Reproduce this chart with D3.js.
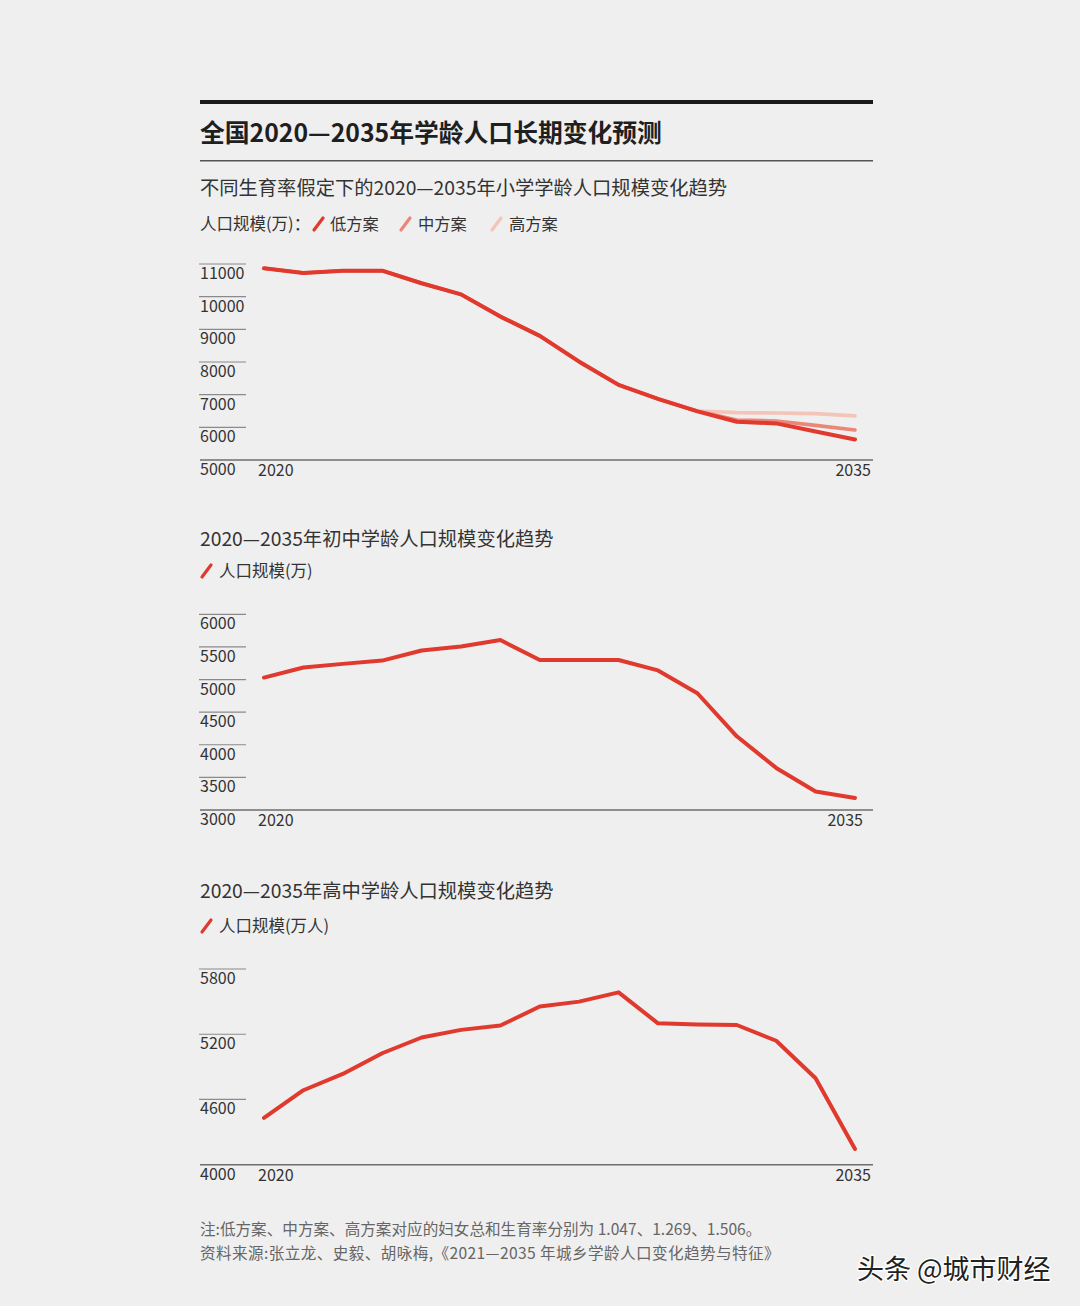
<!DOCTYPE html>
<html><head><meta charset="utf-8">
<script src="https://cdn.jsdelivr.net/npm/d3@7/dist/d3.min.js"></script>
<style>
html,body{margin:0;padding:0;background:#efefef;}
svg{display:block;font-family:"Noto Sans CJK SC","Noto Sans",sans-serif;}
</style></head>
<body>
<script>
// ---------- data ----------
const years = d3.range(2020, 2036);
const primaryLow  = [10870,10725,10795,10795,10410,10070,9390,8800,8010,7300,6870,6490,6170,6120,5870,5630];
const primaryMid  = [10870,10725,10795,10795,10410,10070,9390,8800,8010,7300,6870,6500,6225,6195,6060,5920];
const primaryHigh = [10870,10725,10795,10795,10410,10070,9390,8800,8010,7300,6870,6500,6450,6440,6420,6350];
const juniorPop   = [5030,5185,5240,5290,5445,5505,5605,5300,5300,5300,5140,4790,4130,3645,3285,3185];
const seniorPop   = [4430,4685,4835,5025,5170,5240,5280,5455,5500,5585,5300,5290,5285,5140,4795,4145];
const primaryTicks = [5000,6000,7000,8000,9000,10000,11000];
const juniorTicks  = [3000,3500,4000,4500,5000,5500,6000];
const seniorTicks  = [4000,4600,5200,5800];
const xTickLabels  = ["2020","2035"];

const W = 1080, H = 1306;
const svg = d3.select("body").append("svg").attr("width", W).attr("height", H);
svg.append("rect").attr("width", W).attr("height", H).attr("fill", "#efefef");

const RED = "#e0392e", MID = "#ec8676", HIGH = "#f4c4b8";
const TXT = "#333";
const L = 200, R = 873;

// header
svg.append("rect").attr("x", L).attr("y", 100).attr("width", R - L).attr("height", 4).attr("fill", "#1a1a1a");
svg.append("text").attr("x", L).attr("y", 142).attr("font-size", 24.8).attr("font-weight", 700)
  .attr("fill", "#1f1f1f").text("全国2020—2035年学龄人口长期变化预测");
svg.append("rect").attr("x", L).attr("y", 160).attr("width", R - L).attr("height", 1.5).attr("fill", "#555");

function slash(x, yc, color) {
  svg.append("line").attr("x1", x).attr("y1", yc + 6).attr("x2", x + 9).attr("y2", yc - 6)
    .attr("stroke", color).attr("stroke-width", 3.2).attr("stroke-linecap", "round");
}
function txt(x, y, s, size, color, anchor) {
  return svg.append("text").attr("x", x).attr("y", y).attr("font-size", size)
    .attr("fill", color || TXT).attr("text-anchor", anchor || "start").text(s);
}

// chart 1 titles/legend
txt(L, 195, "不同生育率假定下的2020—2035年小学学龄人口规模变化趋势", 19.3, TXT);
txt(L, 230, "人口规模(万)：", 16.5, TXT);
slash(314, 224, RED); txt(330, 230, "低方案", 16.3, TXT);
slash(401, 224, MID); txt(418, 230, "中方案", 16.3, TXT);
slash(492, 224, HIGH); txt(509, 230, "高方案", 16.3, TXT);

function chart(cfg) {
  const x = d3.scaleLinear().domain([2020, 2035]).range([264, 855]);
  const y = d3.scaleLinear().domain(cfg.domain).range([cfg.bottom, cfg.top]);
  const g = svg.append("g");
  const ticks = cfg.ticks.filter(t => t !== cfg.domain[0]);
  g.selectAll(".tl").data(ticks).join("line")
    .attr("x1", 199).attr("x2", 246).attr("y1", d => y(d)).attr("y2", d => y(d))
    .attr("stroke", "#8a8a8a").attr("stroke-width", 1.2);
  g.selectAll(".lb").data(cfg.ticks).join("text")
    .attr("x", 200).attr("y", d => y(d) + 15).attr("font-size", 16).attr("fill", TXT)
    .text(d => d);
  g.append("line").attr("x1", L).attr("x2", R).attr("y1", y(cfg.domain[0])).attr("y2", y(cfg.domain[0]))
    .attr("stroke", "#6e6e6e").attr("stroke-width", 1.6);
  g.append("text").attr("x", 258).attr("y", y(cfg.domain[0]) + 16).attr("font-size", 16).attr("fill", TXT).text(xTickLabels[0]);
  g.append("text").attr("x", cfg.lastX).attr("y", y(cfg.domain[0]) + 16).attr("font-size", 16).attr("fill", TXT)
    .attr("text-anchor", "end").text(xTickLabels[1]);
  const line = d3.line().x((d, i) => x(years[i])).y(d => y(d));
  cfg.series.forEach(s => {
    g.append("path").datum(s.values).attr("d", line).attr("fill", "none")
      .attr("stroke", s.color).attr("stroke-width", s.w).attr("stroke-linejoin", "round").attr("stroke-linecap", "round");
  });
}

chart({domain: [5000, 11000], top: 264, bottom: 460, ticks: primaryTicks, lastX: 871,
  series: [{values: primaryHigh, color: HIGH, w: 3.6}, {values: primaryMid, color: MID, w: 3.6}, {values: primaryLow, color: RED, w: 4}]});

// chart 2
txt(L, 546, "2020—2035年初中学龄人口规模变化趋势", 19.3, TXT);
slash(202, 571, RED); txt(219, 577, "人口规模(万)", 16.5, TXT);
chart({domain: [3000, 6000], top: 614.3, bottom: 810, ticks: juniorTicks, lastX: 863,
  series: [{values: juniorPop, color: RED, w: 4}]});

// chart 3
txt(L, 898, "2020—2035年高中学龄人口规模变化趋势", 19.3, TXT);
slash(202, 926, RED); txt(219, 932, "人口规模(万人)", 16.5, TXT);
chart({domain: [4000, 5800], top: 969, bottom: 1164.7, ticks: seniorTicks, lastX: 871,
  series: [{values: seniorPop, color: RED, w: 4}]});

// notes
txt(L, 1235, "注:低方案、中方案、高方案对应的妇女总和生育率分别为 1.047、1.269、1.506。", 15.6, "#666");
txt(L, 1259, "资料来源:张立龙、史毅、胡咏梅,《2021—2035 年城乡学龄人口变化趋势与特征》", 15.6, "#666")
  .attr("letter-spacing", 0.4);

// source mark
svg.append("text").attr("x", 857).attr("y", 1279).attr("font-size", 27).attr("fill", "#222")
  .attr("stroke", "#fff").attr("stroke-width", 2.5).attr("paint-order", "stroke")
  .text("头条 @城市财经");
</script>
</body></html>
